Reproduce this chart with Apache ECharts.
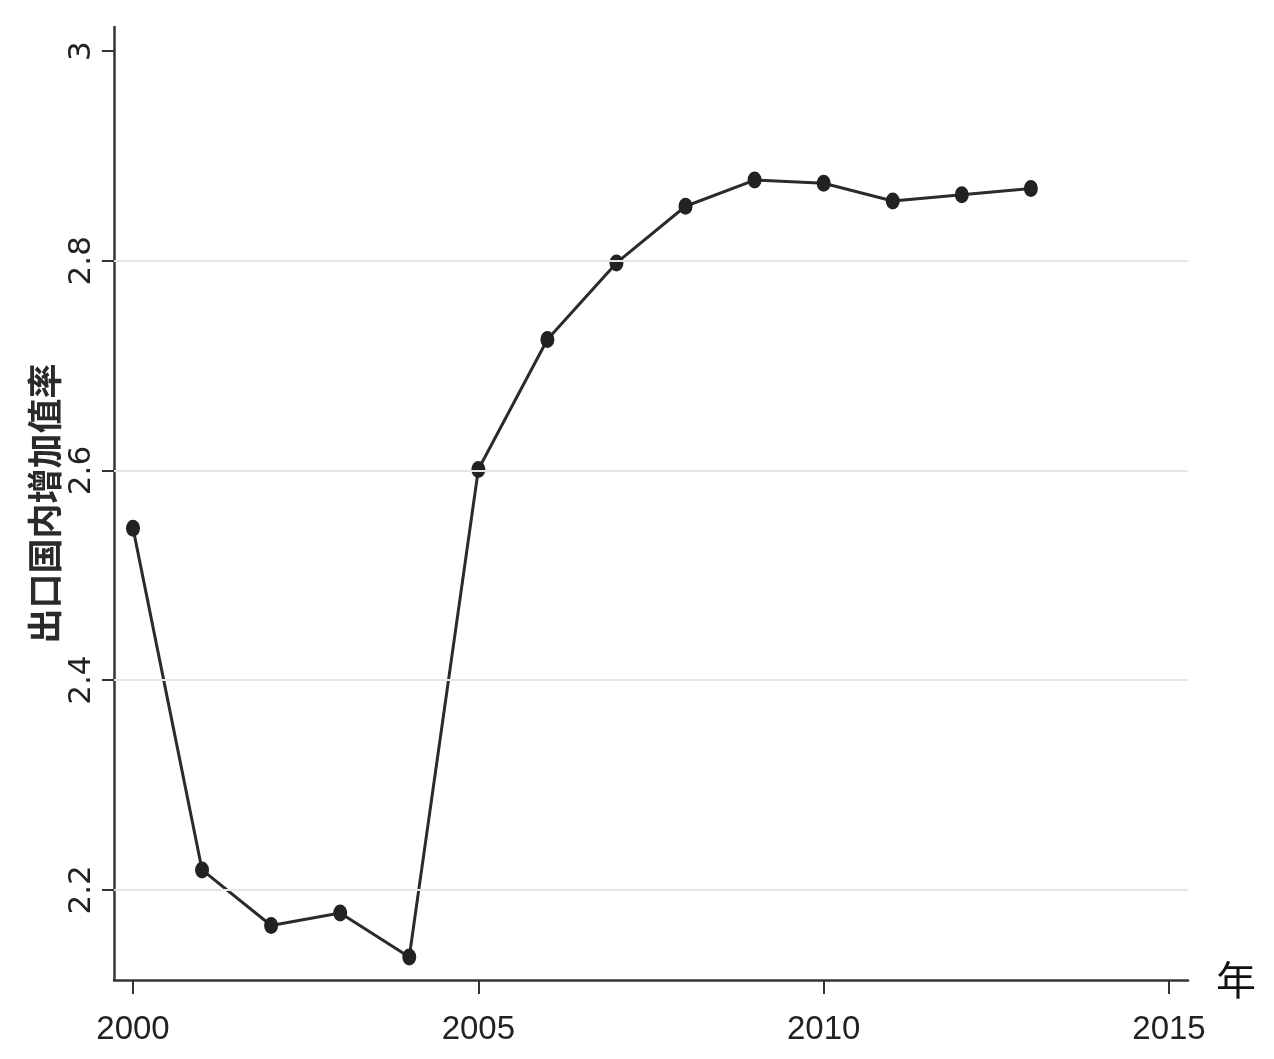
<!DOCTYPE html>
<html>
<head>
<meta charset="utf-8">
<script src="https://cdn.jsdelivr.net/npm/echarts@6/dist/echarts.min.js"></script>
<style>
html,body{margin:0;padding:0;background:#fff;}
#c{width:1274px;height:1059px;}
</style>
</head>
<body>
<div id="c"></div>
<script>
const years = [2000,2001,2002,2003,2004,2005,2006,2007,2008,2009,2010,2011,2012,2013];
const values = [2.545,2.219,2.166,2.178,2.136,2.601,2.725,2.798,2.852,2.877,2.874,2.857,2.863,2.869];
const xTicks = [2000,2005,2010,2015];
const yTicks = [2.2,2.4,2.6,2.8,3];
const yGridValues = [2.2,2.4,2.6,2.8];
const yAxisName = '出口国内增加值率';
const xAxisName = '年';

const chart = echarts.init(document.getElementById('c'));
chart.setOption({
  backgroundColor: '#ffffff',
  animation: false,
  grid: { left: 114, right: 86, top: 27, bottom: 79, containLabel: false },
  xAxis: {
    type: 'value',
    min: 1999.725,
    max: 2015.275,
    name: xAxisName,
    nameLocation: 'end',
    nameGap: 28,
    nameMoveOverlap: false,
    nameTextStyle: { fontSize: 40, color: '#111', fontFamily: 'Noto Sans CJK SC', verticalAlign: 'middle' },
    axisLine: { show: true, lineStyle: { color: '#333', width: 2.5 } },
    axisTick: { show: true, customValues: xTicks, length: 14, lineStyle: { color: '#333', width: 2 } },
    axisLabel: { customValues: xTicks, fontSize: 33, color: '#222', margin: 33,
      fontFamily: "'Liberation Sans', Arial, sans-serif",
      formatter: v => String(Math.round(v)) },
    splitLine: { show: false }
  },
  yAxis: {
    type: 'value',
    min: 2.114,
    max: 3.023,
    name: yAxisName,
    nameLocation: 'middle',
    nameGap: 52,
    nameRotate: 90,
    nameMoveOverlap: false,
    nameTextStyle: { fontSize: 35, color: '#2a2a2a', fontFamily: 'Noto Sans CJK SC', fontWeight: 'bold' },
    axisLine: { show: true, lineStyle: { color: '#333', width: 2.5 } },
    axisTick: { show: true, customValues: yTicks, length: 12, lineStyle: { color: '#333', width: 2 } },
    axisLabel: { customValues: yTicks, rotate: 90, fontSize: 31, color: '#222', margin: 17,
      fontFamily: "'DejaVu Sans', sans-serif",
      formatter: v => String(Math.round(v * 10) / 10) },
    splitLine: { show: false }
  },
  series: [{
    type: 'line',
    data: years.map((y, i) => [y, values[i]]),
    symbol: 'circle',
    symbolSize: [14, 17],
    lineStyle: { color: '#2b2b2b', width: 3 },
    itemStyle: { color: '#222' },
    markLine: {
      silent: true,
      symbol: 'none',
      label: { show: false },
      lineStyle: { color: '#e6e6e6', width: 2, type: 'solid' },
      data: yGridValues.map(v => ({ yAxis: v }))
    },
    z: 3
  }]
});
</script>
</body>
</html>
